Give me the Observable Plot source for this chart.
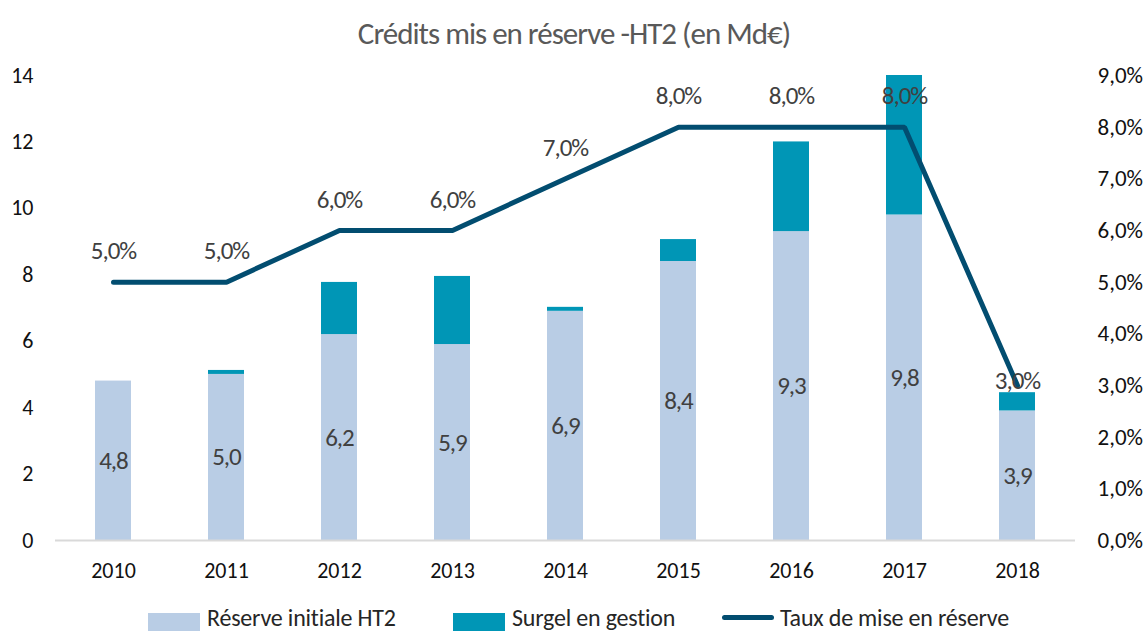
<!DOCTYPE html>
<html>
<head>
<meta charset="utf-8">
<script src="https://cdn.jsdelivr.net/npm/d3@7"></script>
<script src="https://cdn.jsdelivr.net/npm/@observablehq/plot@0.6"></script>
<style>
  html, body { margin: 0; padding: 0; background: #fff; }
  #wrap { position: relative; width: 1148px; height: 633px; overflow: hidden; }
  #title { position: absolute; top: 15px; left: 0; width: 1148px; text-align: center;
    font-family: Carlito, "DejaVu Sans Condensed", sans-serif;
    font-size: 31px; line-height: 36px; color: #595959; letter-spacing: -1px; }
  #chart { position: absolute; top: 0; left: 0; }
  #legend { position: absolute; top: 607px; left: 0; width: 1148px;
    font-family: Carlito, "DejaVu Sans Condensed", sans-serif;
    font-size: 24px; line-height: 21px; color: #262626; letter-spacing: -0.2px; }
  .item { position: absolute; top: 0; height: 21px; display: flex; align-items: center; white-space: nowrap; }
  .sw { width: 52px; height: 18px; margin-right: 7px; margin-top: 8px; }
  .ln { width: 52px; height: 5px; border-radius: 3px; margin-right: 6px; }
  .dl { letter-spacing: -1px; }
</style>
</head>
<body>
<div id="wrap">
  <div id="chart"></div>
  <div id="title">Crédits mis en réserve -HT2 (en Md€)</div>
  <div id="legend"></div>
</div>
<script>
const years = ["2010","2011","2012","2013","2014","2015","2016","2017","2018"];
const reserveInitiale = [4.8, 5.0, 6.2, 5.9, 6.9, 8.4, 9.3, 9.8, 3.9];
const surgel = [0, 0.12, 1.57, 2.05, 0.12, 0.66, 2.7, 4.2, 0.55];
const tauxMiseEnReserve = [5.0, 5.0, 6.0, 6.0, 7.0, 8.0, 8.0, 8.0, 3.0];
const leftTicks = [0, 2, 4, 6, 8, 10, 12, 14];
const rightTicks = [0, 1, 2, 3, 4, 5, 6, 7, 8, 9];
const seriesNames = ["Réserve initiale HT2", "Surgel en gestion", "Taux de mise en réserve"];
const colors = ["#B9CDE5", "#0096B6", "#024D70"];

const yMax = 14, rMax = 9;
const toLeft = r => r * yMax / rMax;
const fmt = v => v.toFixed(1).replace(".", ",");

const barRows = [];
years.forEach((y, i) => {
  barRows.push({year: y, series: seriesNames[0], value: reserveInitiale[i]});
  barRows.push({year: y, series: seriesNames[1], value: surgel[i]});
});
const lineRows = years.map((y, i) => ({year: y, rate: tauxMiseEnReserve[i]}));
const initRows = years.map((y, i) => ({year: y, value: reserveInitiale[i]}));

const labelFont = 'Carlito, "DejaVu Sans Condensed", sans-serif';
const axisFont = 'Carlito, Lato, "Open Sans", sans-serif';

const chart = Plot.plot({
  width: 1148,
  height: 590,
  marginTop: 75,
  marginBottom: 50,
  marginLeft: 55,
  marginRight: 73,
  style: {fontFamily: axisFont, background: "transparent"},
  x: {type: "band", domain: years, paddingInner: 0.68, paddingOuter: 0.34, axis: null},
  y: {domain: [0, yMax], axis: null},
  color: {domain: seriesNames.slice(0, 2), range: colors.slice(0, 2)},
  marks: [
    Plot.barY(barRows, {x: "year", y: "value", fill: "series", order: seriesNames.slice(0, 2)}),
    Plot.ruleY([0], {stroke: "#D9D9D9", strokeWidth: 2}),
    Plot.text(initRows, {x: "year", y: d => d.value / 2, text: d => fmt(d.value),
      fontFamily: labelFont, fontSize: 25, fill: "#404040", className: "dl"}),
    Plot.line(lineRows, {x: "year", y: d => toLeft(d.rate), stroke: colors[2], strokeWidth: 5,
      strokeLinecap: "round", strokeLinejoin: "miter"}),
    Plot.text(lineRows.slice(0, 8), {x: "year", y: d => toLeft(d.rate), text: d => fmt(d.rate) + "%",
      dy: -31, fontFamily: labelFont, fontSize: 25, fill: "#404040", className: "dl"}),
    Plot.text(lineRows.slice(8), {x: "year", y: d => toLeft(d.rate), text: d => fmt(d.rate) + "%",
      dy: -5, fontFamily: labelFont, fontSize: 25, fill: "#404040", className: "dl"}),
    Plot.axisX({tickSize: 0, tickPadding: 22, fontSize: 22, fontWeight: 400, label: null, fill: "#111"}),
    Plot.axisY(leftTicks, {anchor: "left", tickSize: 0, tickPadding: 22, fontSize: 22, fontWeight: 400, label: null, fill: "#111"}),
    Plot.axisY(rightTicks.map(toLeft), {anchor: "right", tickSize: 0, tickPadding: 22, fontSize: 23, fontWeight: 400,
      label: null, fill: "#111", tickFormat: v => fmt(v * rMax / yMax) + "%"})
  ]
});
document.getElementById("chart").appendChild(chart);

const legend = document.getElementById("legend");
const lefts = [148, 453, 722];
seriesNames.forEach((name, i) => {
  const item = document.createElement("div");
  item.className = "item";
  item.style.left = lefts[i] + "px";
  const sw = document.createElement("div");
  sw.className = i < 2 ? "sw" : "ln";
  sw.style.background = colors[i];
  const t = document.createElement("span");
  t.textContent = name;
  item.appendChild(sw);
  item.appendChild(t);
  legend.appendChild(item);
});
</script>
</body>
</html>
